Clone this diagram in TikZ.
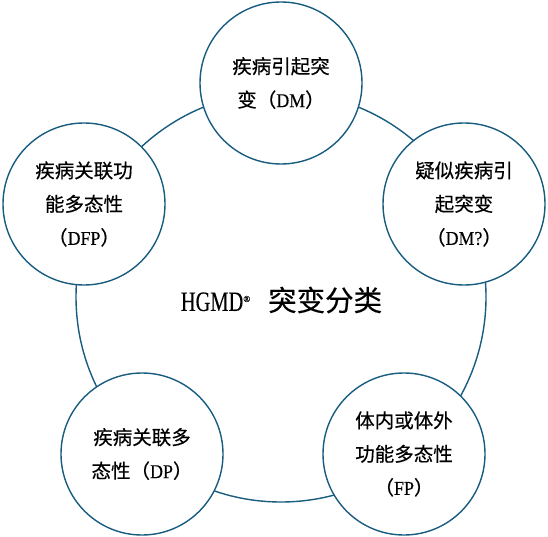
\documentclass[tikz,border=0pt]{standalone}
\usepackage{fontspec}
\usepackage{graphicx}
\setmainfont[FakeBold=0.4]{Noto Sans CJK SC}
\newfontfamily\latserif[FakeBold=0.3]{Liberation Serif}
\newcommand{\lat}[1]{{\latserif\scalebox{0.92}[1]{#1}}}
\definecolor{ringblue}{RGB}{24,92,128}
\begin{document}
\begin{tikzpicture}[x=1pt,y=-1pt,
  ringline/.style={draw=ringblue,line width=1.4pt},
  bubble/.style={ringline,circle,fill=white,minimum size=162pt,inner sep=0pt,align=center,
    font=\fontsize{19.5}{33.5}\selectfont}]
\useasboundingbox (0,0) rectangle (548,537);
\node[ringline,circle,minimum size=410pt,inner sep=0pt] (ring) at (281,297) {};
\node[bubble] (dm) at (281,83) {疾病引起突\\变（\lat{DM}）};
\node[bubble] (dmq) at (464,204) {疑似疾病引\\起突变\\（\lat{DM?}）};
\node[bubble] (dfp) at (84,204) {疾病关联功\\能多态性\\（\lat{DFP}）};
\node[bubble] (fp) at (404,454) {体内或体外\\功能多态性\\（\lat{FP}）};
\node[bubble] (dp) at (142,454) {疾病关联多\\态性（\lat{DP}）};
\node[font=\fontsize{28.5}{30}\selectfont] (title) at (281.5,300)
  {{\latserif\fontsize{28}{30}\selectfont\scalebox{0.73}[1]{HGMD}\raisebox{9pt}{\fontsize{9}{9}\selectfont ®}}\hspace{18pt}突变分类};
\end{tikzpicture}
\end{document}
